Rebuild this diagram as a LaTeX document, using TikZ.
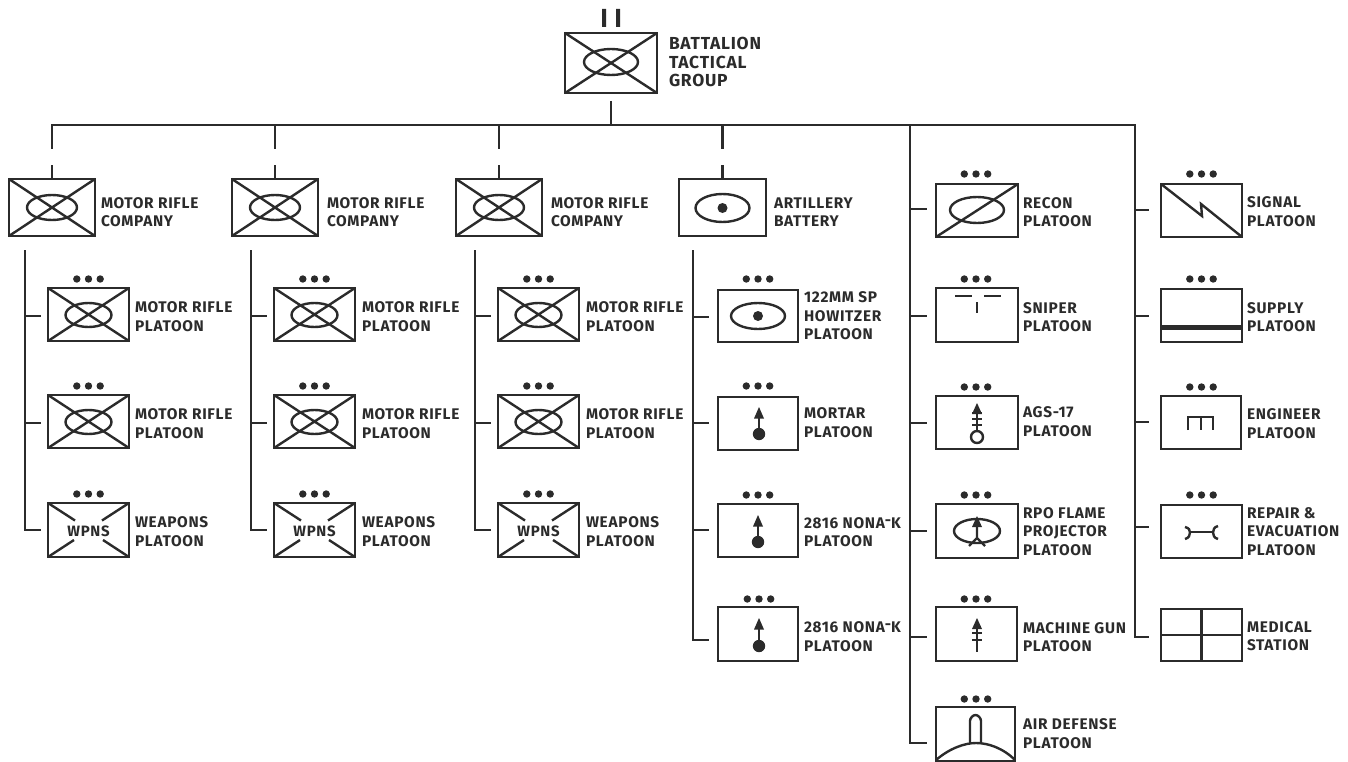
\documentclass[tikz,border=0pt]{standalone}
\usepackage{fontspec}
\setmainfont{Fira Sans}[LetterSpace=4.5]
\definecolor{ink}{HTML}{2B2B2B}
\tikzset{
  x=1pt,y=-1pt,
  unitbox/.style={draw=ink,line width=2.6pt,rectangle,inner sep=0pt,outer sep=0pt},
  wire/.style={draw=ink,line width=2.6pt},
  sym/.style={draw=ink,line width=2.4pt},
  lab/.style={anchor=west,align=left,inner sep=0pt,outer sep=0pt,text=ink,font=\fontsize{15.4}{18.6}\selectfont\bfseries},
  big lab/.style={lab,font=\fontsize{17.4}{18.6}\selectfont\bfseries},
  inner lab/.style={inner sep=0pt,text=ink,font=\fontsize{15}{18.6}\selectfont\bfseries},
}
\newcommand{\ubox}[5]{\node[unitbox,minimum width={#4-#2},minimum height={#5-#3}] (#1) at ({(#2+#4)/2},{(#3+#5)/2}) {};}
\newcommand{\tridots}[2]{\fill[ink] (#1-11.7,#2) circle[radius=3.7] (#1,#2) circle[radius=3.7] (#1+11.7,#2) circle[radius=3.7];}
\newcommand{\xsym}[1]{\draw[sym] (#1.north west) -- (#1.south east) (#1.north east) -- (#1.south west);}
\newcommand{\ovl}[4]{\draw[sym] (#1,#2) ellipse [x radius=#3,y radius=#4];}
\newcommand{\mortar}[4]{% x, tip, headbase, circle y
  \fill[ink] (#1,#2) -- (#1+5,#3+1.5) -- (#1-5,#3+1.5) -- cycle;
  \draw[sym] (#1,#3) -- (#1,#4);
  \fill[ink] (#1,#4) circle[radius=6.2];}
\newcommand{\wpns}[3]{% box name, centre x, centre y
  \draw[sym] (#1.north west) -- ++(27,17.5) (#1.north east) -- ++(-27,17.5) (#1.south west) -- ++(26,-17) (#1.south east) -- ++(-26,-17);
  \node[inner lab] (#1t) at (#2,#3) {WPNS};}
\newcommand{\hy}{\raisebox{2.6pt}{-}}
\begin{document}
\begin{tikzpicture}
\useasboundingbox (0,0) rectangle (1348,762);
% ---------- battalion
\ubox{bn}{565}{33}{657}{93}
\xsym{bn}
\ovl{611}{62}{27}{13}
\fill[ink] (602,9) rectangle (606,27) (616,9) rectangle (620,27);
\node[big lab] (bnl) at (669,62) {BATTALION\\TACTICAL\\GROUP};
% ---------- bus
\coordinate (busL) at (52,125);
\coordinate (busR) at (1135,125);
\coordinate (bnS) at (611,101);
\draw[wire] (52,149) -- (busL) -- (busR) -- (1135,637) -- (1149,637);
\draw[wire] (bnS) -- (bnS |- busL);
% ---------- motor rifle columns
\foreach \i/\cL/\cR/\cX/\lX/\sV/\bL/\bC/\sX in {1/9/95/52/101/25/48/88.5/135, 2/232/318/275/327/251/274/314.5/362, 3/456/542/499/551/475/498/538.5/586}{
  \pgfmathsetmacro{\bR}{\bL+81}
  \ubox{co\i}{\cL}{179}{\cR}{236}
  \xsym{co\i}
  \ovl{\cX}{207.5}{25}{12.5}
  \node[lab] (col\i) at (\lX,212) {MOTOR RIFLE\\COMPANY};
  \draw[wire] (\cX,125) -- (\cX,149);
  \draw[wire] (co\i.north) -- ++(0,-14);
  \draw[wire] (\sV,250) -- (\sV,530) -- (\sV+16,530);
  \draw[wire] (\sV,316) -- (\sV+16,316);
  \draw[wire] (\sV,423) -- (\sV+16,423);
  \ubox{pa\i}{\bL}{288}{\bR}{341}
  \xsym{pa\i}
  \ovl{\bC}{315}{23}{12}
  \tridots{\bC}{279}
  \node[lab] (pal\i) at (\sX,316.5) {MOTOR RIFLE\\PLATOON};
  \ubox{pb\i}{\bL}{395}{\bR}{448}
  \xsym{pb\i}
  \ovl{\bC}{422}{23}{12}
  \tridots{\bC}{386}
  \node[lab] (pbl\i) at (\sX,423.5) {MOTOR RIFLE\\PLATOON};
  \ubox{pc\i}{\bL}{503}{\bR}{557}
  \wpns{pc\i}{\bC}{531}
  \tridots{\bC}{494}
  \node[lab] (pcl\i) at (\sX,531.5) {WEAPONS\\PLATOON};
}
% ---------- artillery
\ubox{ar}{679}{179}{766}{236}
\ovl{722.5}{208}{27}{14}
\fill[ink] (722.5,208) circle[radius=5];
\node[lab] (arl) at (774,212) {ARTILLERY\\BATTERY};
\draw[wire] (ar.north) ++(0,-54) -- ++(0,24);
\draw[wire] (ar.north) -- ++(0,-14);
\draw[wire] (693,250) -- (693,640) -- (709,640);
\draw[wire] (693,317) -- (709,317);
\draw[wire] (693,423) -- (709,423);
\draw[wire] (693,530) -- (709,530);
\ubox{ara}{718}{290}{798}{342}
\tridots{758}{279}
\ovl{758}{316}{27}{13}
\fill[ink] (758,316) circle[radius=5];
\node[lab] (aral) at (804,316) {122MM SP\\HOWITZER\\PLATOON};
\ubox{arb}{718}{397}{798}{450}
\tridots{758}{386}
\mortar{759}{407}{417}{434}
\node[lab] (arbl) at (804,422.5) {MORTAR\\PLATOON};
\ubox{arc}{718}{504}{798}{557}
\tridots{758}{495}
\mortar{758}{515}{525}{542}
\node[lab] (arcl) at (804,532) {2816 NONA\hy K\\PLATOON};
\ubox{ard}{718}{607}{798}{661}
\tridots{759}{599}
\mortar{759}{618}{628}{646}
\node[lab] (ardl) at (804,636.5) {2816 NONA\hy K\\PLATOON};
% ---------- fifth column
\draw[wire] (910,125) -- (910,743) -- (927,743);
\foreach \y in {209,316,423,531,637}{\draw[wire] (910,\y) -- (927,\y);}
\ubox{re}{936}{184}{1018}{237}
\tridots{976}{174}
\draw[sym] (re.south west) -- (re.north east);
\ovl{977}{210}{27}{13}
\node[lab] (rel) at (1023,212) {RECON\\PLATOON};
\ubox{sn}{936}{288}{1018}{342}
\tridots{976}{279}
\draw[sym] (955,296) -- (972,296) (984,296) -- (1001,296) (977,302) -- (977,313);
\node[lab] (snl) at (1023,317) {SNIPER\\PLATOON};
\ubox{ag}{936}{396}{1018}{449}
\tridots{976}{387}
\fill[ink] (977,403) -- (982,414) -- (972,414) -- cycle;
\draw[sym] (977,413) -- (977,431) (972,413) -- (982,413) (972,419) -- (982,419) (972,425) -- (982,425);
\draw[sym] (977,437) circle[radius=6];
\node[lab] (agl) at (1023,421.5) {AGS-17\\PLATOON};
\ubox{rp}{936}{504}{1018}{558}
\tridots{976}{495}
\ovl{977}{531}{23}{12}
\fill[ink] (977,516) -- (982,527) -- (972,527) -- cycle;
\draw[sym] (977,526) -- (977,538) -- (969,546) (977,538) -- (985,546);
\node[lab] (rpl) at (1023,531.5) {RPO FLAME\\PROJECTOR\\PLATOON};
\ubox{mg}{936}{607}{1017}{661}
\tridots{976}{599}
\fill[ink] (977,618) -- (982,629) -- (972,629) -- cycle;
\draw[sym] (977,628) -- (977,652) (972,633) -- (982,633) (972,640) -- (982,640);
\node[lab] (mgl) at (1023,637) {MACHINE GUN\\PLATOON};
\ubox{ad}{936}{707}{1015}{761}
\tridots{976}{699}
\draw[sym] (936,760) .. controls (950,748) and (965,743) .. (976,743) .. controls (988,743) and (1003,748) .. (1015,760);
\draw[sym] (970,743) -- (970,721) .. controls (970,718) and (973,715) .. (975.5,715) .. controls (978,715) and (981,718) .. (981,721) -- (981,743);
\node[lab] (adl) at (1023,733.5) {AIR DEFENSE\\PLATOON};
% ---------- sixth column
\foreach \y in {210,316,422,527}{\draw[wire] (1135,\y) -- (1149,\y);}
\ubox{si}{1161}{184}{1242}{237}
\tridots{1201.5}{174}
\draw[sym] (si.north west) -- (1202,216) -- (1201,204) -- (si.south east);
\node[lab] (sil) at (1247,211.5) {SIGNAL\\PLATOON};
\ubox{su}{1161}{289}{1242}{342}
\tridots{1201.5}{279}
\draw[draw=ink,line width=5pt] (su.west |- 0,327) -- (su.east |- 0,327);
\node[lab] (sul) at (1247,317) {SUPPLY\\PLATOON};
\ubox{en}{1161}{396}{1241}{449}
\tridots{1201.5}{387}
\draw[sym] (1188,430) -- (1188,417) -- (1213,417) -- (1213,430) (1201,417) -- (1201,430);
\node[lab] (enl) at (1247,423.5) {ENGINEER\\PLATOON};
\ubox{rr}{1161}{505}{1242}{558}
\tridots{1201.5}{495}
\draw[sym] (1190,532) -- (1213,532);
\draw[sym] (1185,527) .. controls (1189,528) and (1190,530) .. (1190,532.5) .. controls (1190,535) and (1189,538) .. (1185,539);
\draw[sym] (1218,526) .. controls (1214,527) and (1213,530) .. (1213,532.5) .. controls (1213,535) and (1214,538) .. (1218,539);
\node[lab] (rrl) at (1247,531.5) {REPAIR \&\\EVACUATION\\PLATOON};
\ubox{me}{1161}{609}{1242}{661}
\draw[sym] (me.north) -- (me.south) (me.west) -- (me.east);
\node[lab] (mel) at (1247,636) {MEDICAL\\STATION};
\end{tikzpicture}
\end{document}
